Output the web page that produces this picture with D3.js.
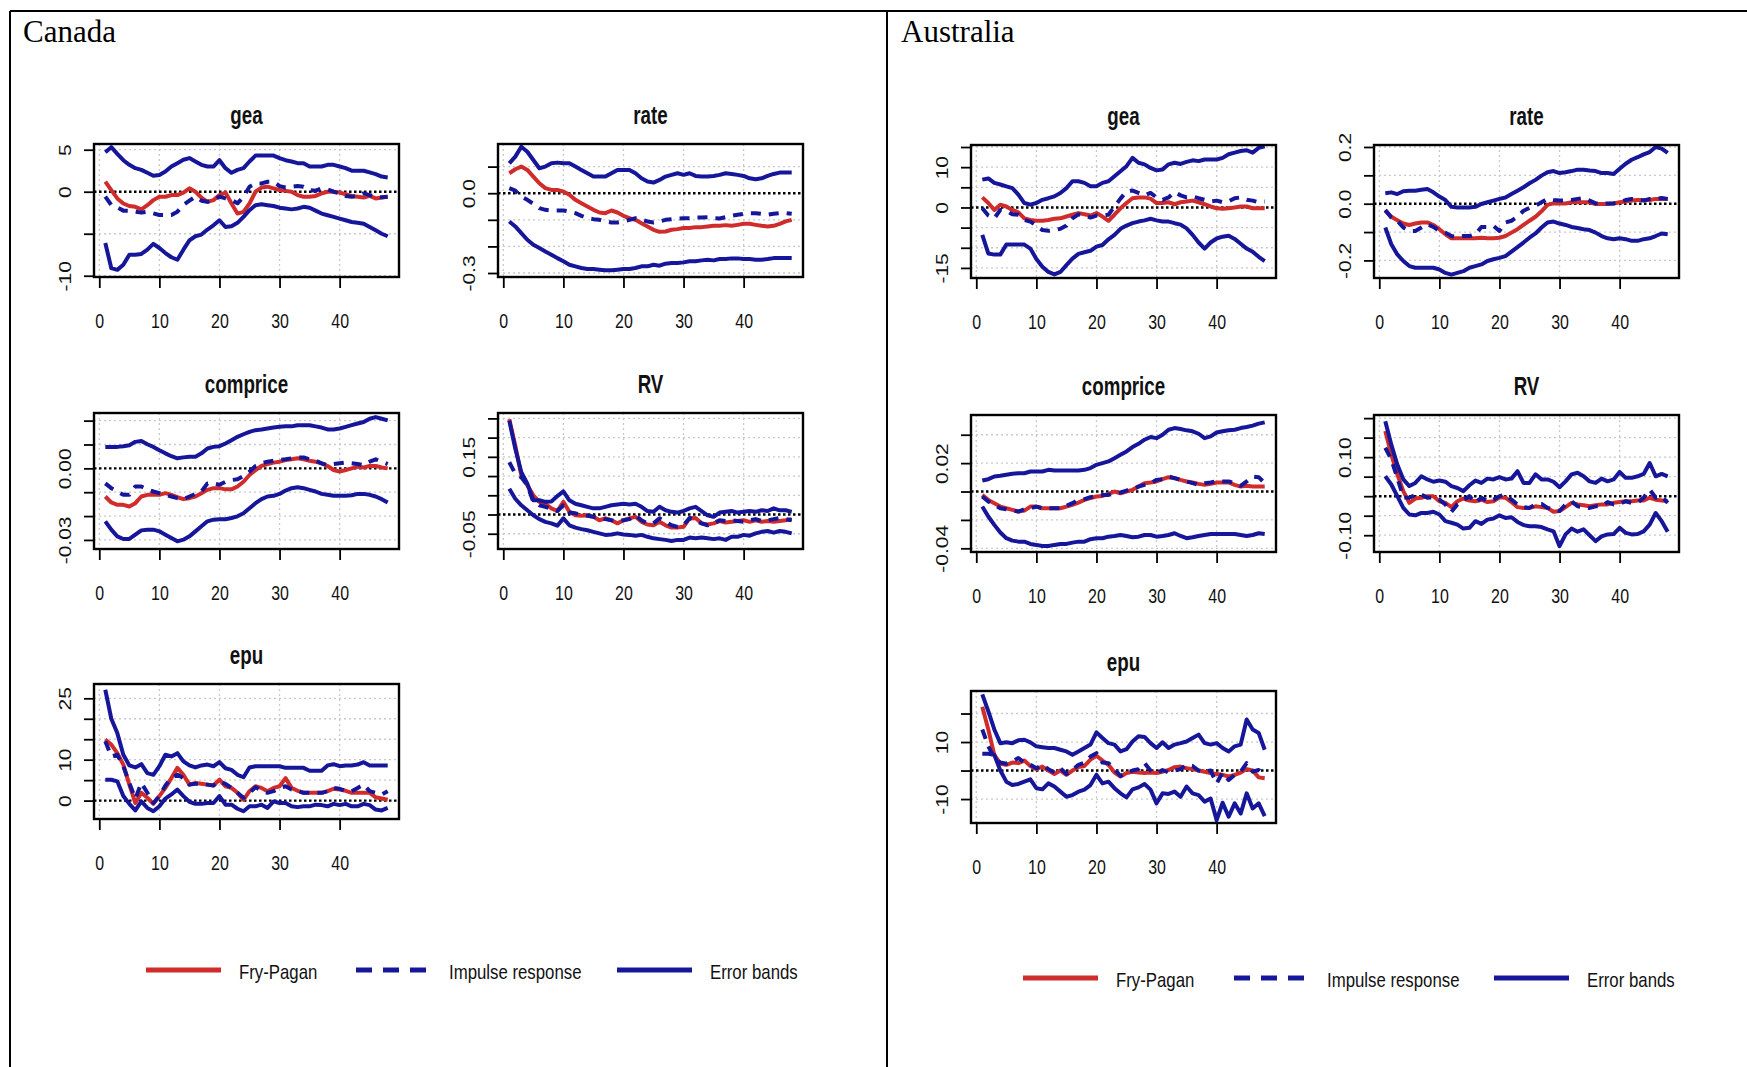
<!DOCTYPE html>
<html>
<head>
<meta charset="utf-8">
<script src="https://cdn.jsdelivr.net/npm/d3@7"></script>
<style>
  body { margin: 0; background: #fff; }
  svg { display: block; }
</style>
</head>
<body>
<svg id="chart" width="1747" height="1067"></svg>
<script>
// ---------- horizons and shared axis ticks ----------
const horizons = d3.range(1, 49);
const xTickValues = [0, 10, 20, 30, 40];
const seriesNames = ["Fry-Pagan", "Impulse response", "Error bands"];

// ---------- Canada: gea ----------
const canGeaUpper = [4.7,5.3,4.5,3.75,3.2,2.8,2.6,2.25,1.9,2.0, 2.4,3.0,3.4,3.8,4.0,3.6,3.2,3.0,3.0,3.75, 2.8,2.25,2.6,2.8,3.6,4.3,4.3,4.3,4.3,4.0, 3.75,3.6,3.4,3.4,3.0,3.0,3.0,3.2,3.2,3.0, 2.8,2.5,2.5,2.5,2.3,2.1,1.8,1.7];
const canGeaLower = [-6.1,-9.1,-9.3,-8.7,-7.5,-7.5,-7.4,-6.9,-6.2,-6.7, -7.3,-7.8,-8.1,-6.9,-5.8,-5.3,-5.1,-4.5,-4.0,-3.4, -4.2,-4.1,-3.7,-3.0,-2.2,-1.6,-1.5,-1.6,-1.7,-1.9, -2.0,-2.1,-2.0,-1.8,-1.9,-2.25,-2.6,-2.8,-3.0,-3.2, -3.4,-3.6,-3.7,-3.8,-4.2,-4.6,-5.0,-5.3];
const canGeaIrf = [-0.59,-1.58,-1.86,-2.25,-2.25,-2.37,-2.49,-2.37,-2.57,-2.77, -2.77,-2.77,-2.37,-1.58,-1.07,-0.59,-1.07,-1.19,-0.99,-0.59, -0.79,-0.99,-1.38,-0.59,0.59,0.99,0.99,1.19,1.19,0.67, 0.51,0.59,0.67,0.59,0.2,0.12,0.4,0.28,0.0,-0.2, -0.51,-0.59,-0.51,-0.2,-0.4,-0.59,-0.67,-0.59];
const canGeaFp = [1.2,0.2,-0.8,-1.4,-1.7,-1.8,-2.1,-1.6,-1.0,-0.6, -0.6,-0.4,-0.4,-0.1,0.4,0.0,-0.7,-1.2,-1.0,-0.4, -0.1,-1.4,-2.6,-2.4,-1.4,0.0,0.5,0.6,0.4,0.2, 0.1,0.0,-0.4,-0.6,-0.6,-0.5,-0.2,0.0,0.0,-0.1, -0.3,-0.5,-0.6,-0.7,-0.5,-0.8,-0.7,-0.6];
const canGeaRange = [-10.15, 5.68];
const canGeaTicks = [-10, -5, 0, 5];
const canGeaTickLabels = ["-10", "", "0", "5"];

// ---------- Canada: rate ----------
const canRateUpper = [0.1125,0.1375,0.175,0.156,0.125,0.094,0.1,0.1125,0.115,0.1125, 0.1125,0.1,0.0875,0.075,0.0625,0.0625,0.0625,0.075,0.0875,0.0875, 0.0875,0.075,0.056,0.044,0.04,0.05,0.0625,0.069,0.075,0.069, 0.075,0.065,0.0625,0.0625,0.065,0.069,0.075,0.0725,0.069,0.065, 0.056,0.0525,0.056,0.065,0.0725,0.0775,0.0775,0.0775];
const canRateLower = [-0.106,-0.125,-0.15,-0.175,-0.194,-0.206,-0.219,-0.231,-0.244,-0.256, -0.269,-0.275,-0.281,-0.285,-0.285,-0.2875,-0.29,-0.29,-0.2875,-0.285, -0.285,-0.281,-0.275,-0.275,-0.269,-0.2725,-0.265,-0.2625,-0.2625,-0.26, -0.256,-0.256,-0.2525,-0.25,-0.2525,-0.2475,-0.2475,-0.245,-0.245,-0.2475, -0.2475,-0.25,-0.25,-0.2475,-0.244,-0.244,-0.244,-0.244];
const canRateIrf = [0.019,0.01,-0.0125,-0.025,-0.04,-0.056,-0.0625,-0.065,-0.065,-0.065, -0.069,-0.075,-0.085,-0.094,-0.0975,-0.1,-0.106,-0.11,-0.11,-0.106, -0.1,-0.094,-0.1,-0.106,-0.11,-0.106,-0.1,-0.0975,-0.095,-0.094, -0.094,-0.091,-0.091,-0.09,-0.094,-0.095,-0.09,-0.085,-0.081,-0.0775, -0.075,-0.075,-0.0775,-0.081,-0.0775,-0.075,-0.075,-0.0775];
const canRateFp = [0.075,0.09,0.1,0.0875,0.0625,0.0375,0.019,0.0125,0.0125,0.006, -0.006,-0.025,-0.0375,-0.05,-0.0625,-0.0725,-0.075,-0.065,-0.0725,-0.085, -0.094,-0.1,-0.1125,-0.125,-0.1375,-0.145,-0.144,-0.1375,-0.135,-0.131, -0.131,-0.1275,-0.1275,-0.125,-0.1225,-0.1225,-0.12,-0.1225,-0.119,-0.115, -0.115,-0.119,-0.1225,-0.125,-0.1225,-0.115,-0.106,-0.1];
const canRateRange = [-0.315, 0.185];
const canRateTicks = [-0.3, -0.2, -0.1, 0.0, 0.1];
const canRateTickLabels = ["-0.3", "", "", "0.0", ""];

// ---------- Canada: comprice ----------
const canCompUpper = [0.0090,0.0090,0.0090,0.0093,0.0097,0.0111,0.0115,0.0101,0.0090,0.0076, 0.0063,0.0051,0.0042,0.0046,0.0049,0.0049,0.0063,0.0083,0.0090,0.0093, 0.0104,0.0118,0.0132,0.0143,0.0153,0.0160,0.0163,0.0167,0.0171,0.0174, 0.0176,0.0176,0.0181,0.0181,0.0181,0.0176,0.0171,0.0163,0.0163,0.0167, 0.0174,0.0181,0.0188,0.0194,0.0208,0.0215,0.0208,0.0201];
const canCompLower = [-0.0222,-0.0257,-0.0285,-0.0296,-0.0296,-0.0278,-0.0260,-0.0257,-0.0257,-0.0264, -0.0278,-0.0292,-0.0306,-0.0299,-0.0285,-0.0264,-0.0243,-0.0222,-0.0215,-0.0213, -0.0213,-0.0208,-0.0201,-0.0188,-0.0167,-0.0146,-0.0129,-0.0118,-0.0115,-0.0107, -0.0093,-0.0083,-0.0079,-0.0083,-0.0090,-0.0097,-0.0107,-0.0111,-0.0115,-0.0115, -0.0115,-0.0113,-0.0107,-0.0107,-0.0111,-0.0118,-0.0129,-0.0143];
const canCompIrf = [-0.0063,-0.0083,-0.0097,-0.0111,-0.0111,-0.0076,-0.0076,-0.0088,-0.0097,-0.0104, -0.0111,-0.0118,-0.0125,-0.0129,-0.0118,-0.0107,-0.0097,-0.0063,-0.0063,-0.0069, -0.0056,-0.0049,-0.0046,-0.0032,-0.0014,0.0010,0.0021,0.0028,0.0032,0.0035, 0.0038,0.0042,0.0046,0.0046,0.0038,0.0032,0.0021,0.0014,0.0018,0.0021, 0.0024,0.0021,0.0018,0.0014,0.0028,0.0038,0.0028,0.0018];
const canCompFp = [-0.0118,-0.0143,-0.0153,-0.0153,-0.0160,-0.0146,-0.0118,-0.0111,-0.0111,-0.0111, -0.0104,-0.0111,-0.0121,-0.0129,-0.0125,-0.0118,-0.0104,-0.0090,-0.0083,-0.0083, -0.0088,-0.0088,-0.0076,-0.0056,-0.0028,-0.0007,0.0010,0.0018,0.0024,0.0028, 0.0035,0.0038,0.0042,0.0038,0.0032,0.0028,0.0021,0.0010,-0.0007,-0.0014, -0.0007,0.0000,0.0007,0.0004,0.0010,0.0010,0.0004,0.0000];
const canCompRange = [-0.0338, 0.0232];
const canCompTicks = [-0.03, -0.02, -0.01, 0.0, 0.01, 0.02];
const canCompTickLabels = ["-0.03", "", "", "0.00", "", ""];

// ---------- Canada: RV ----------
const canRvUpper = [0.244,0.171,0.110,0.080,0.037,0.037,0.033,0.034,0.048,0.060, 0.037,0.028,0.024,0.020,0.016,0.016,0.020,0.024,0.026,0.028, 0.026,0.028,0.020,0.009,0.007,0.020,0.011,0.007,0.005,0.009, 0.016,0.020,0.009,-0.002,-0.006,0.005,0.007,0.009,0.005,0.007, 0.009,0.007,0.011,0.009,0.016,0.011,0.011,0.007];
const canRvLower = [0.067,0.041,0.024,0.011,-0.002,-0.012,-0.019,-0.023,-0.029,-0.010, -0.028,-0.034,-0.038,-0.041,-0.045,-0.049,-0.053,-0.052,-0.049,-0.052, -0.053,-0.055,-0.053,-0.058,-0.062,-0.064,-0.066,-0.069,-0.066,-0.066, -0.060,-0.062,-0.060,-0.062,-0.064,-0.062,-0.066,-0.058,-0.058,-0.053, -0.055,-0.049,-0.045,-0.043,-0.047,-0.043,-0.045,-0.049];
const canRvIrf = [0.136,0.106,0.097,0.076,0.033,0.024,0.020,0.014,0.009,0.024, 0.005,0.003,0.000,-0.003,-0.006,-0.010,-0.012,-0.015,-0.017,-0.015, -0.012,-0.002,-0.015,-0.023,-0.023,-0.010,-0.019,-0.028,-0.032,-0.028, -0.009,-0.015,-0.023,-0.028,-0.023,-0.015,-0.017,-0.015,-0.017,-0.019, -0.015,-0.012,-0.017,-0.015,-0.012,-0.009,-0.012,-0.015];
const canRvFp = [0.248,0.179,0.102,0.076,0.050,0.033,0.028,0.016,0.009,0.033, 0.007,-0.002,-0.003,-0.002,-0.006,-0.015,-0.010,-0.015,-0.023,-0.015, -0.010,-0.006,-0.019,-0.026,-0.028,-0.019,-0.028,-0.034,-0.034,-0.032, -0.010,-0.009,-0.023,-0.026,-0.023,-0.017,-0.021,-0.019,-0.017,-0.015, -0.019,-0.015,-0.019,-0.017,-0.019,-0.017,-0.015,-0.012];
const canRvRange = [-0.0897, 0.264];
const canRvTicks = [-0.05, 0.0, 0.05, 0.10, 0.15, 0.20, 0.25];
const canRvTickLabels = ["-0.05", "", "", "", "0.15", "", ""];

// ---------- Canada: epu ----------
const canEpuUpper = [27.1,20.0,16.5,11.2,8.6,8.1,8.9,6.7,6.3,8.4, 11.2,10.8,11.6,9.6,8.6,8.1,8.6,8.8,8.4,9.4, 7.9,7.5,6.3,5.7,8.1,8.4,8.4,8.4,8.4,8.4, 8.0,8.0,8.0,8.0,7.3,7.3,7.3,8.6,8.9,8.4, 8.6,8.6,8.8,9.4,8.6,8.6,8.6,8.6];
const canEpuLower = [5.1,5.1,4.7,1.1,-0.8,-2.4,-0.2,-1.8,-2.6,-1.4, 0.5,1.5,2.7,1.1,-0.3,-0.8,-0.8,-0.6,-0.6,1.1, -1.0,-1.0,-2.0,-2.6,-1.4,-1.4,-1.0,-1.8,-0.2,-0.6, -0.6,-1.4,-1.6,-1.4,-1.4,-1.0,-1.1,-1.4,-0.8,-1.1, -0.8,-1.4,-1.4,-0.8,-1.1,-2.2,-2.4,-1.8];
const canEpuIrf = [14.5,10.8,11.2,8.4,4.3,0.5,4.3,1.9,-0.6,1.1, 3.7,5.5,6.3,5.5,3.9,4.1,4.1,3.9,3.7,4.7, 4.1,3.1,1.9,0.7,1.9,3.3,2.4,1.9,2.3,3.1, 3.5,2.7,2.4,1.9,1.9,1.9,1.9,2.3,3.1,2.9, 2.3,2.3,3.1,3.9,2.3,1.9,1.5,2.3];
const canEpuFp = [14.9,13.7,11.6,8.8,3.9,-0.6,1.9,0.7,-0.8,1.1, 3.1,5.5,8.0,6.3,3.9,4.3,4.1,3.9,3.7,5.1, 3.5,3.1,1.9,0.2,2.3,3.5,3.1,2.3,3.1,3.5, 5.5,3.1,2.4,1.9,1.9,1.9,1.9,2.3,2.9,2.7, 2.4,1.9,1.9,1.9,1.9,0.8,0.5,0.2];
const canEpuRange = [-4.5, 28.5];
const canEpuTicks = [0, 5, 10, 15, 20, 25];
const canEpuTickLabels = ["0", "", "10", "", "", "25"];

// ---------- Australia: gea ----------
const ausGeaUpper = [6.9,7.2,6.1,5.7,5.25,4.8,3.2,1.1,0.7,1.1, 1.9,2.3,2.75,3.6,4.8,6.5,6.5,6.1,5.25,5.25, 6.1,6.5,7.75,9.0,10.25,12.3,11.1,10.7,9.8,9.2, 9.4,10.7,11.1,10.8,11.3,11.7,11.5,11.9,11.9,11.9, 12.3,13.2,13.6,14.0,14.2,13.6,14.8,15.2];
const ausGeaLower = [-6.8,-11.4,-11.7,-11.7,-9.2,-9.2,-9.2,-9.2,-10.2,-12.8, -14.7,-16.0,-16.6,-16.0,-14.3,-12.7,-11.5,-11.1,-10.75,-9.7, -9.3,-7.9,-6.8,-5.3,-4.5,-3.9,-3.5,-3.2,-2.8,-3.2, -3.5,-3.5,-3.9,-4.25,-5.2,-6.8,-8.7,-10.2,-8.7,-7.7, -7.25,-7.0,-7.8,-9.0,-10.2,-11.0,-12.25,-13.3];
const ausGeaIrf = [-0.2,-2.0,-2.7,-0.6,-0.8,-1.7,-1.8,-3.1,-3.5,-4.5, -5.6,-5.8,-5.6,-5.3,-4.5,-2.7,-1.7,-2.0,-2.5,-2.0, -2.0,-1.8,0.25,2.2,4.0,4.2,3.6,3.0,3.6,2.5, 1.9,2.5,3.8,3.0,2.5,2.75,2.3,1.9,1.5,1.7, 1.3,1.5,2.3,2.5,1.9,1.7,1.3,1.5];
const ausGeaFp = [2.5,1.1,-0.6,0.7,0.25,-0.6,-1.2,-2.7,-3.1,-3.3, -3.3,-3.1,-2.8,-2.7,-2.25,-1.8,-1.4,-1.7,-2.0,-1.4, -2.25,-3.3,-1.8,-0.2,1.1,2.3,2.5,2.5,2.2,1.1, 1.1,1.3,0.8,1.3,1.5,1.7,1.3,0.8,0.25,-0.2, -0.3,-0.2,0.0,0.25,0.25,-0.2,-0.2,-0.2];
const ausGeaRange = [-17.5, 15.5];
const ausGeaTicks = [-15, -10, -5, 0, 5, 10, 15];
const ausGeaTickLabels = ["-15", "", "", "0", "", "10", ""];

// ---------- Australia: rate ----------
const ausRateUpper = [0.037,0.040,0.034,0.044,0.046,0.046,0.049,0.052,0.040,0.025, 0.013,-0.011,-0.013,-0.013,-0.013,-0.011,-0.001,0.005,0.011,0.017, 0.022,0.034,0.046,0.058,0.072,0.084,0.099,0.111,0.115,0.108, 0.111,0.115,0.120,0.120,0.117,0.115,0.108,0.108,0.105,0.123, 0.141,0.155,0.164,0.174,0.182,0.2,0.194,0.179];
const ausRateLower = [-0.084,-0.143,-0.179,-0.202,-0.220,-0.226,-0.226,-0.226,-0.226,-0.232, -0.244,-0.250,-0.244,-0.238,-0.226,-0.220,-0.214,-0.202,-0.196,-0.191, -0.185,-0.169,-0.153,-0.137,-0.120,-0.105,-0.084,-0.066,-0.063,-0.070, -0.075,-0.082,-0.086,-0.090,-0.093,-0.102,-0.114,-0.122,-0.125,-0.122, -0.125,-0.131,-0.131,-0.125,-0.122,-0.114,-0.105,-0.108];
const ausRateIrf = [-0.022,-0.049,-0.060,-0.084,-0.096,-0.096,-0.084,-0.072,-0.082,-0.096, -0.102,-0.114,-0.117,-0.114,-0.114,-0.108,-0.082,-0.082,-0.078,-0.096, -0.066,-0.060,-0.046,-0.025,-0.015,-0.007,0.005,0.017,0.013,0.011, 0.011,0.013,0.017,0.020,0.011,0.001,-0.001,0.001,0.001,0.005, 0.013,0.017,0.013,0.011,0.017,0.017,0.020,0.017];
const ausRateFp = [-0.025,-0.046,-0.058,-0.070,-0.075,-0.070,-0.066,-0.066,-0.075,-0.090, -0.108,-0.122,-0.122,-0.122,-0.122,-0.122,-0.120,-0.122,-0.122,-0.120, -0.114,-0.102,-0.090,-0.075,-0.060,-0.046,-0.027,-0.004,0.001,0.001, 0.001,0.005,0.005,0.005,0.005,-0.001,-0.001,-0.001,0.001,0.005, 0.008,0.011,0.013,0.013,0.013,0.017,0.017,0.017];
const ausRateRange = [-0.262, 0.207];
const ausRateTicks = [-0.2, -0.1, 0.0, 0.1, 0.2];
const ausRateTickLabels = ["-0.2", "", "0.0", "", "0.2"];

// ---------- Australia: comprice ----------
const ausCompUpper = [0.0078,0.0087,0.0106,0.0111,0.0118,0.0125,0.0129,0.0129,0.0141,0.0141, 0.0141,0.0153,0.0148,0.0148,0.0148,0.0148,0.0148,0.0153,0.0165,0.0188, 0.0200,0.0212,0.0235,0.0259,0.0282,0.0313,0.0336,0.0365,0.0384,0.0376, 0.0400,0.0435,0.0447,0.0440,0.0431,0.0424,0.0407,0.0376,0.0388,0.0416, 0.0424,0.0431,0.0435,0.0447,0.0454,0.0464,0.0478,0.0487];
const ausCompLower = [-0.0106,-0.0176,-0.0235,-0.0289,-0.0329,-0.0346,-0.0353,-0.0353,-0.0369,-0.0376, -0.0384,-0.0384,-0.0376,-0.0369,-0.0369,-0.0360,-0.0353,-0.0353,-0.0336,-0.0329, -0.0329,-0.0318,-0.0313,-0.0306,-0.0313,-0.0322,-0.0318,-0.0306,-0.0306,-0.0318, -0.0313,-0.0306,-0.0294,-0.0313,-0.0329,-0.0322,-0.0313,-0.0306,-0.0299,-0.0299, -0.0299,-0.0299,-0.0299,-0.0306,-0.0313,-0.0306,-0.0294,-0.0299];
const ausCompIrf = [-0.0035,-0.0071,-0.0094,-0.0118,-0.0125,-0.0134,-0.0141,-0.0125,-0.0118,-0.0106, -0.0118,-0.0118,-0.0118,-0.0118,-0.0101,-0.0082,-0.0059,-0.0054,-0.0040,-0.0031, -0.0024,-0.0024,-0.0012,-0.0007,0.0007,0.0016,0.0035,0.0047,0.0059,0.0082, 0.0087,0.0106,0.0094,0.0082,0.0071,0.0059,0.0047,0.0059,0.0064,0.0071, 0.0071,0.0071,0.0059,0.0040,0.0071,0.0106,0.0101,0.0059];
const ausCompFp = [-0.0024,-0.0059,-0.0082,-0.0106,-0.0118,-0.0129,-0.0141,-0.0134,-0.0106,-0.0106, -0.0118,-0.0118,-0.0118,-0.0118,-0.0106,-0.0094,-0.0078,-0.0059,-0.0047,-0.0035, -0.0031,-0.0016,0.0000,-0.0012,0.0000,0.0012,0.0035,0.0059,0.0064,0.0071, 0.0087,0.0101,0.0094,0.0082,0.0071,0.0064,0.0054,0.0047,0.0054,0.0064, 0.0064,0.0064,0.0047,0.0035,0.0040,0.0035,0.0035,0.0035];
const ausCompRange = [-0.0426, 0.0539];
const ausCompTicks = [-0.04, -0.02, 0.0, 0.02, 0.04];
const ausCompTickLabels = ["-0.04", "", "", "0.02", ""];

// ---------- Australia: RV ----------
const ausRvUpper = [0.192,0.132,0.081,0.043,0.026,0.034,0.051,0.043,0.037,0.040, 0.037,0.026,0.021,0.013,0.028,0.040,0.034,0.045,0.043,0.049, 0.043,0.045,0.064,0.034,0.034,0.056,0.043,0.043,0.037,0.023, 0.038,0.056,0.060,0.051,0.038,0.034,0.045,0.038,0.043,0.062, 0.047,0.047,0.051,0.057,0.085,0.051,0.057,0.051];
const ausRvLower = [0.051,0.030,0.000,-0.030,-0.047,-0.049,-0.043,-0.043,-0.040,-0.047, -0.064,-0.068,-0.073,-0.083,-0.081,-0.064,-0.071,-0.060,-0.057,-0.049, -0.056,-0.054,-0.066,-0.074,-0.077,-0.077,-0.079,-0.085,-0.090,-0.128, -0.098,-0.083,-0.091,-0.085,-0.100,-0.115,-0.103,-0.098,-0.097,-0.081, -0.094,-0.098,-0.097,-0.090,-0.073,-0.043,-0.064,-0.091];
const ausRvIrf = [0.124,0.094,0.047,-0.003,-0.004,0.003,0.004,-0.004,-0.003,-0.009, -0.021,-0.040,-0.021,-0.011,0.000,-0.017,-0.004,-0.013,-0.009,0.000, 0.004,-0.009,-0.021,-0.028,-0.030,-0.021,-0.020,-0.030,-0.034,-0.038, -0.021,-0.013,-0.026,-0.028,-0.030,-0.026,-0.026,-0.015,-0.021,-0.020, -0.013,-0.017,-0.017,-0.004,0.017,-0.004,0.000,-0.017];
const ausRvFp = [0.167,0.107,0.056,0.013,-0.017,-0.006,-0.004,0.000,0.000,-0.013, -0.017,-0.028,-0.013,-0.006,-0.011,-0.013,-0.009,-0.015,-0.013,-0.003, -0.004,-0.015,-0.028,-0.030,-0.030,-0.026,-0.028,-0.030,-0.040,-0.038, -0.028,-0.017,-0.021,-0.023,-0.026,-0.023,-0.021,-0.021,-0.017,-0.015, -0.013,-0.013,-0.011,-0.011,-0.004,-0.009,-0.011,-0.013];
const ausRvRange = [-0.143, 0.208];
const ausRvTicks = [-0.10, -0.05, 0.0, 0.05, 0.10, 0.15, 0.20];
const ausRvTickLabels = ["-0.10", "", "", "", "0.10", "", ""];

// ---------- Australia: epu ----------
const ausEpuUpper = [26.7,20.8,14.4,9.6,9.9,9.6,10.6,10.8,9.9,8.5, 8.2,7.9,7.9,7.3,6.7,5.5,6.7,7.9,9.1,13.4, 11.4,9.6,9.1,6.7,7.5,10.2,12.0,11.8,9.6,7.9, 9.9,7.9,9.1,9.6,10.2,11.4,12.6,9.6,9.1,9.6, 7.9,6.7,8.5,9.1,17.9,14.4,13.2,7.3];
const ausEpuLower = [5.9,5.9,5.5,0.0,-3.9,-5.1,-4.7,-3.9,-3.1,-6.2, -6.6,-4.5,-5.6,-7.4,-9.2,-8.6,-7.4,-6.7,-5.1,-1.5, -4.5,-3.9,-6.2,-8.0,-9.4,-6.6,-5.9,-4.7,-6.7,-11.5, -8.0,-8.2,-7.4,-9.2,-5.6,-8.0,-8.6,-10.9,-9.8,-17.4, -11.3,-16.2,-11.5,-15.1,-8.0,-13.3,-11.5,-16.0];
const ausEpuIrf = [14.4,8.5,4.4,2.8,2.4,3.2,4.4,2.8,2.0,0.8, 2.0,0.5,-0.7,0.8,-1.2,0.2,2.0,2.8,4.9,6.1, 2.8,2.6,0.5,-1.9,-0.7,0.0,0.5,2.6,0.0,-0.9, 0.2,-0.7,0.0,0.5,2.0,1.6,0.0,-0.4,0.0,-4.5, -0.7,-3.3,-1.5,-0.4,2.6,-0.4,0.2,-1.5];
const ausEpuFp = [22.4,14.4,5.5,2.4,2.0,2.8,2.6,3.5,1.6,0.5, 1.4,0.0,-1.2,0.0,-1.5,0.0,1.2,1.6,3.8,5.2, 3.5,2.0,-0.7,-2.1,-0.9,-0.4,-0.7,-0.9,-0.7,-0.9, -0.4,0.2,1.2,1.4,0.8,0.5,0.0,-0.4,-0.9,-1.2, -1.5,-2.1,-1.5,-0.7,0.5,0.0,-2.4,-2.7];
const ausEpuRange = [-18.4, 27.9];
const ausEpuTicks = [-10, 0, 10, 20];
const ausEpuTickLabels = ["-10", "", "10", ""];

// ---------- panel table ----------
const panels = [
  { side: 0, col: 0, row: 0, title: "gea",      upper: canGeaUpper,  lower: canGeaLower,  irf: canGeaIrf,  fp: canGeaFp,  range: canGeaRange,  ticks: canGeaTicks,  labels: canGeaTickLabels },
  { side: 0, col: 1, row: 0, title: "rate",     upper: canRateUpper, lower: canRateLower, irf: canRateIrf, fp: canRateFp, range: canRateRange, ticks: canRateTicks, labels: canRateTickLabels },
  { side: 0, col: 0, row: 1, title: "comprice", upper: canCompUpper, lower: canCompLower, irf: canCompIrf, fp: canCompFp, range: canCompRange, ticks: canCompTicks, labels: canCompTickLabels },
  { side: 0, col: 1, row: 1, title: "RV",       upper: canRvUpper,   lower: canRvLower,   irf: canRvIrf,   fp: canRvFp,   range: canRvRange,   ticks: canRvTicks,   labels: canRvTickLabels },
  { side: 0, col: 0, row: 2, title: "epu",      upper: canEpuUpper,  lower: canEpuLower,  irf: canEpuIrf,  fp: canEpuFp,  range: canEpuRange,  ticks: canEpuTicks,  labels: canEpuTickLabels },
  { side: 1, col: 0, row: 0, title: "gea",      upper: ausGeaUpper,  lower: ausGeaLower,  irf: ausGeaIrf,  fp: ausGeaFp,  range: ausGeaRange,  ticks: ausGeaTicks,  labels: ausGeaTickLabels },
  { side: 1, col: 1, row: 0, title: "rate",     upper: ausRateUpper, lower: ausRateLower, irf: ausRateIrf, fp: ausRateFp, range: ausRateRange, ticks: ausRateTicks, labels: ausRateTickLabels },
  { side: 1, col: 0, row: 1, title: "comprice", upper: ausCompUpper, lower: ausCompLower, irf: ausCompIrf, fp: ausCompFp, range: ausCompRange, ticks: ausCompTicks, labels: ausCompTickLabels },
  { side: 1, col: 1, row: 1, title: "RV",       upper: ausRvUpper,   lower: ausRvLower,   irf: ausRvIrf,   fp: ausRvFp,   range: ausRvRange,   ticks: ausRvTicks,   labels: ausRvTickLabels },
  { side: 1, col: 0, row: 2, title: "epu",      upper: ausEpuUpper,  lower: ausEpuLower,  irf: ausEpuIrf,  fp: ausEpuFp,  range: ausEpuRange,  ticks: ausEpuTicks,  labels: ausEpuTickLabels }
];

// ---------- geometry & style ----------
const countries = [
  { name: "Canada",    textX: 23,  colLeft: [94, 498],   rowTop: [144, 413, 684], rowH: [133, 136, 135], legendY: 970, legendX: [146, 356, 617] },
  { name: "Australia", textX: 901, colLeft: [971, 1374], rowTop: [145, 415, 691], rowH: [133, 137, 132], legendY: 978, legendX: [1023, 1234, 1494] }
];
const boxW = 305;
const NAVY = "#16169a";
const RED = "#d02c2c";
const SANS = "'Liberation Sans', Arial, sans-serif";
const SQUEEZE = 0.76;
const LINE_W = 4;

const svg = d3.select("#chart");

// table frame
const frame = svg.append("g").attr("stroke", "#000").attr("stroke-width", 2);
frame.append("line").attr("x1", 10).attr("x2", 1747).attr("y1", 11).attr("y2", 11);
frame.append("line").attr("x1", 10).attr("x2", 10).attr("y1", 11).attr("y2", 1067);
frame.append("line").attr("x1", 887).attr("x2", 887).attr("y1", 11).attr("y2", 1067);

countries.forEach(c => {
  svg.append("text")
    .attr("x", c.textX).attr("y", 42)
    .attr("font-family", "'Liberation Serif', 'Times New Roman', serif")
    .attr("font-size", 31)
    .attr("fill", "#000")
    .text(c.name);
});

function drawPanel(p, idx) {
  const c = countries[p.side];
  const left = c.colLeft[p.col], top = c.rowTop[p.row], h = c.rowH[p.row];
  const g = svg.append("g").attr("transform", `translate(${left},${top})`);

  const x = d3.scaleLinear().domain([-0.88, 49.88]).range([0, boxW]);
  const y = d3.scaleLinear().domain(p.range).range([h, 0]);

  const clipId = "clip" + idx;
  g.append("clipPath").attr("id", clipId)
    .append("rect").attr("width", boxW).attr("height", h);

  // grid at tick positions
  const grid = g.append("g").attr("stroke", "#c9c9c9").attr("stroke-width", 1.3).attr("stroke-dasharray", "2,3");
  grid.selectAll("line.v").data(xTickValues).join("line").attr("class", "v")
    .attr("x1", d => x(d)).attr("x2", d => x(d)).attr("y1", 0).attr("y2", h);
  grid.selectAll("line.h").data(p.ticks).join("line").attr("class", "h")
    .attr("x1", 0).attr("x2", boxW).attr("y1", d => y(d)).attr("y2", d => y(d));

  // zero reference line
  g.append("line")
    .attr("x1", 0).attr("x2", boxW).attr("y1", y(0)).attr("y2", y(0))
    .attr("stroke", "#000").attr("stroke-width", 2.4).attr("stroke-dasharray", "2.5,2.5");

  const line = d3.line().x((d, i) => x(horizons[i])).y(d => y(d));
  const plot = g.append("g").attr("clip-path", `url(#${clipId})`).attr("fill", "none")
    .attr("stroke-linejoin", "round");

  plot.append("path").attr("d", line(p.fp)).attr("stroke", RED).attr("stroke-width", LINE_W);
  plot.append("path").attr("d", line(p.irf)).attr("stroke", NAVY).attr("stroke-width", LINE_W)
    .attr("stroke-dasharray", "10,8");
  plot.append("path").attr("d", line(p.upper)).attr("stroke", NAVY).attr("stroke-width", LINE_W);
  plot.append("path").attr("d", line(p.lower)).attr("stroke", NAVY).attr("stroke-width", LINE_W);

  // plot box
  g.append("rect").attr("width", boxW).attr("height", h)
    .attr("fill", "none").attr("stroke", "#000").attr("stroke-width", 2.4);

  // x axis
  const xa = g.append("g").attr("transform", `translate(0,${h})`)
    .call(d3.axisBottom(x).tickValues(xTickValues).tickSize(11).tickSizeOuter(0).tickFormat(d3.format("d")));
  xa.select(".domain").remove();
  xa.attr("font-family", SANS).attr("font-size", 21);
  xa.selectAll(".tick line").attr("stroke", "#000").attr("stroke-width", 1.8);
  xa.selectAll(".tick text")
    .attr("y", null).attr("dy", null).attr("fill", "#111")
    .attr("transform", `translate(0,51) scale(${SQUEEZE},1)`);

  // y axis (labels parallel to the axis)
  const labelFor = new Map(p.ticks.map((t, i) => [t, p.labels[i]]));
  const ya = g.append("g")
    .call(d3.axisLeft(y).tickValues(p.ticks).tickSize(10).tickSizeOuter(0).tickFormat(d => labelFor.get(d)));
  ya.select(".domain").remove();
  ya.attr("font-family", SANS).attr("font-size", 21);
  ya.selectAll(".tick line").attr("stroke", "#000").attr("stroke-width", 1.8);
  ya.selectAll(".tick text")
    .attr("x", null).attr("dy", null).attr("fill", "#111")
    .attr("text-anchor", "middle")
    .attr("transform", `translate(-23,0) scale(${SQUEEZE},1) rotate(-90)`);

  // panel title
  g.append("text")
    .attr("text-anchor", "middle")
    .attr("transform", `translate(${boxW / 2},-20) scale(0.75,1)`)
    .attr("font-family", SANS).attr("font-weight", "bold").attr("font-size", 25)
    .attr("fill", "#111")
    .text(p.title);
}

panels.forEach(drawPanel);

// legends
countries.forEach(c => {
  const lg = svg.append("g").attr("transform", `translate(0,${c.legendY})`);
  const items = [
    { stroke: RED,  dash: null },
    { stroke: NAVY, dash: "16,11" },
    { stroke: NAVY, dash: null }
  ];
  items.forEach((it, i) => {
    const x0 = c.legendX[i];
    const ln = lg.append("line").attr("x1", x0).attr("x2", x0 + 75).attr("y1", 0).attr("y2", 0)
      .attr("stroke", it.stroke).attr("stroke-width", 5);
    if (it.dash) ln.attr("stroke-dasharray", it.dash);
    lg.append("text")
      .attr("transform", `translate(${x0 + 93},9) scale(0.84,1)`)
      .attr("font-family", SANS).attr("font-size", 20).attr("fill", "#111")
      .text(seriesNames[i]);
  });
});
</script>
</body>
</html>
